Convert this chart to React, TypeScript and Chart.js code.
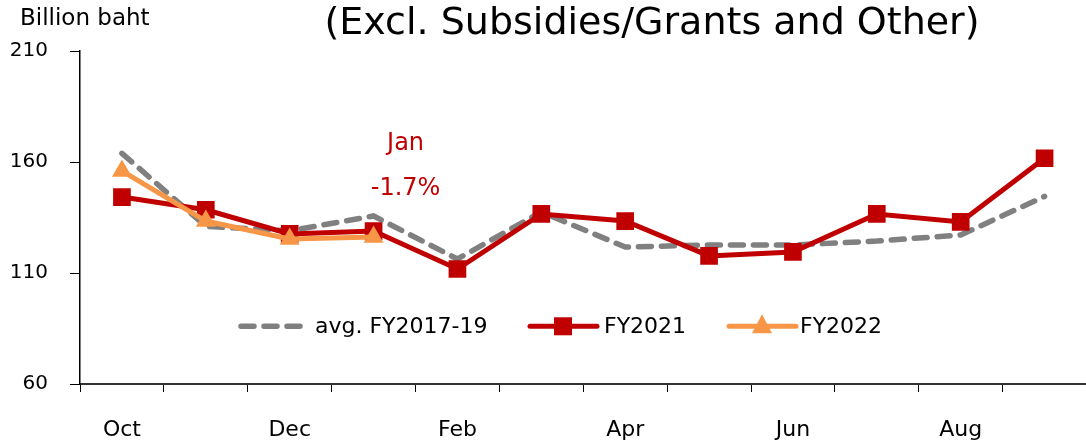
import React, { useEffect, useRef } from "react";
import { Chart, registerables } from "chart.js";

Chart.register(...registerables);

const categories = ["Oct", "Nov", "Dec", "Jan", "Feb", "Mar", "Apr", "May", "Jun", "Jul", "Aug", "Sep"];
const avgFY2017_19 = [163.9, 131, 129, 135.7, 116.3, 137.5, 121.7, 122.6, 122.6, 124.4, 127.1, 144.5];
const fy2021 = [144.2, 138.5, 127.6, 128.9, 111.8, 136.6, 133.4, 117.7, 119.5, 136.6, 133, 161.7];
const fy2022: (number | null)[] = [156, 133.4, 125.3, 126.2, null, null, null, null, null, null, null, null];
const yTicks = [60, 110, 160, 210];
const titleText = "(Excl. Subsidies/Grants and Other)";
const unitText = "Billion baht";
const annotationLines = ["Jan", "-1.7%"];

const FONT = "'DejaVu Sans', sans-serif";
const RED = "#C00000";
const ORANGE = "#F79646";
const GRAY = "#808080";

const overlayPlugin = {
  id: "overlay",
  afterDraw(chart: any) {
    const ctx = chart.ctx as CanvasRenderingContext2D;
    const area = chart.chartArea;
    const xs = chart.scales.x;
    const ys = chart.scales.y;
    ctx.save();
    // title
    ctx.fillStyle = "#000";
    ctx.textBaseline = "middle";
    ctx.textAlign = "center";
    ctx.font = `38px ${FONT}`;
    ctx.fillText(titleText, 652, 24);
    ctx.textAlign = "left";
    ctx.font = `23px ${FONT}`;
    ctx.fillText(unitText, 20, 19);
    // annotation
    ctx.fillStyle = RED;
    ctx.textAlign = "center";
    ctx.font = `24px ${FONT}`;
    const ax = xs.getPixelForValue(3) + 32;
    ctx.fillText(annotationLines[0], ax, ys.getPixelForValue(168.2));
    ctx.fillText(annotationLines[1], ax, ys.getPixelForValue(148));
    // legend
    const ly = ys.getPixelForValue(86);
    const lx = area.left;
    ctx.textAlign = "left";
    ctx.font = `22px ${FONT}`;
    // gray dashed
    ctx.strokeStyle = GRAY;
    ctx.lineWidth = 5.5;
    ctx.lineCap = "round";
    ctx.setLineDash([13, 10]);
    ctx.beginPath();
    ctx.moveTo(lx + 161, ly);
    ctx.lineTo(lx + 220, ly);
    ctx.stroke();
    ctx.setLineDash([]);
    ctx.lineWidth = 5;
    ctx.fillStyle = "#000";
    ctx.fillText("avg. FY2017-19", lx + 235, ly + 1);
    // red
    ctx.strokeStyle = RED;
    ctx.beginPath();
    ctx.moveTo(lx + 450, ly);
    ctx.lineTo(lx + 517, ly);
    ctx.stroke();
    ctx.fillStyle = RED;
    ctx.fillRect(lx + 474, ly - 9, 18, 18);
    ctx.fillStyle = "#000";
    ctx.fillText("FY2021", lx + 524, ly + 1);
    // orange
    ctx.strokeStyle = ORANGE;
    ctx.beginPath();
    ctx.moveTo(lx + 649, ly);
    ctx.lineTo(lx + 716, ly);
    ctx.stroke();
    ctx.fillStyle = ORANGE;
    ctx.beginPath();
    ctx.moveTo(lx + 682, ly - 12);
    ctx.lineTo(lx + 692, ly + 7);
    ctx.lineTo(lx + 672, ly + 7);
    ctx.closePath();
    ctx.fill();
    ctx.fillStyle = "#000";
    ctx.fillText("FY2022", lx + 720, ly + 1);
    ctx.restore();
  },
};

export default function App() {
  const ref = useRef<HTMLCanvasElement | null>(null);
  useEffect(() => {
    document.body.style.margin = "0";
    if (!ref.current) return;
    const chart = new Chart(ref.current, {
      type: "line",
      data: {
        labels: categories,
        datasets: [
          {
            label: "avg. FY2017-19",
            data: avgFY2017_19,
            borderColor: GRAY,
            borderWidth: 5.5,
            borderDash: [13, 10],
            borderCapStyle: "round",
            pointRadius: 0,
            tension: 0,
            order: 3,
          },
          {
            label: "FY2021",
            data: fy2021,
            borderColor: RED,
            backgroundColor: RED,
            borderWidth: 5,
            pointStyle: "rect",
            pointRadius: 12.5,
            pointBorderWidth: 0,
            pointBackgroundColor: RED,
            tension: 0,
            order: 2,
          },
          {
            label: "FY2022",
            data: fy2022,
            borderColor: ORANGE,
            backgroundColor: ORANGE,
            borderWidth: 5,
            pointStyle: "triangle",
            pointRadius: 11.5,
            pointBorderWidth: 0,
            pointBackgroundColor: ORANGE,
            tension: 0,
            spanGaps: false,
            order: 1,
          },
        ],
      },
      options: {
        animation: false,
        responsive: false,
        maintainAspectRatio: false,
        layout: { padding: { top: 51, left: 0, right: 0, bottom: 0 } },
        plugins: {
          legend: { display: false },
          tooltip: { enabled: false },
          title: { display: false },
        },
        scales: {
          x: {
            type: "category",
            offset: true,
            grid: {
              display: true,
              drawOnChartArea: false,
              drawTicks: true,
              tickLength: 8,
              color: "#000",
              offset: true,
            },
            border: { display: true, color: "#333", width: 2 },
            ticks: {
              autoSkip: false,
              maxRotation: 0,
              padding: 25,
              color: "#000",
              font: { family: FONT, size: 22 },
              callback: (_v: any, i: number) => (i % 2 === 0 ? categories[i] : ""),
            },
            afterFit: (s: any) => {
              s.height = 62;
              s.paddingLeft = 0;
              s.paddingRight = 0;
            },
          },
          y: {
            min: 60,
            max: 210,
            grid: {
              display: true,
              drawOnChartArea: false,
              drawTicks: true,
              tickLength: 10,
              color: "#000",
            },
            border: { display: true, color: "#000", width: 1.5 },
            afterBuildTicks: (s: any) => {
              s.ticks = yTicks.map((v) => ({ value: v }));
            },
            ticks: {
              padding: 22,
              color: "#000",
              font: { family: FONT, size: 20 },
            },
            afterFit: (s: any) => {
              s.width = 80;
            },
          },
        },
      },
      plugins: [overlayPlugin],
    });
    return () => chart.destroy();
  }, []);
  return (
    <div style={{ position: "relative", width: 1086, height: 446, overflow: "hidden" }}>
      <canvas ref={ref} width={1099} height={446} style={{ display: "block" }} />
    </div>
  );
}
